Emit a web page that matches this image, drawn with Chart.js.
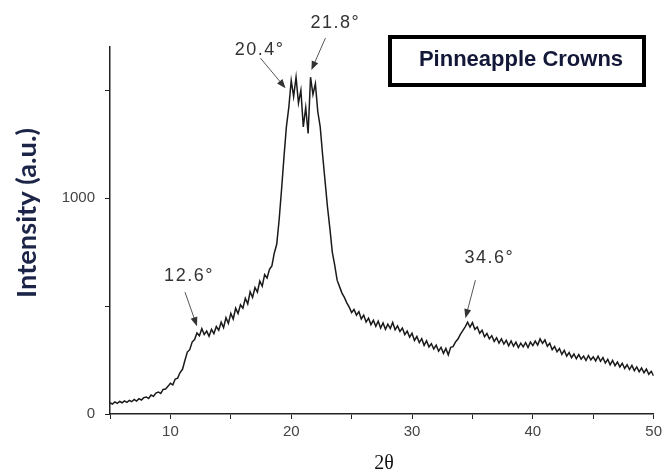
<!DOCTYPE html>
<html>
<head>
<meta charset="utf-8">
<script src="https://cdn.jsdelivr.net/npm/chart.js@4/dist/chart.umd.min.js"></script>
<style>
	body { margin: 0; background: #fff; }
	canvas { display: block; }
</style>
</head>
<body>
<canvas id="xrd" width="666" height="472"></canvas>
<script>
// scan: 2theta from 5 to 50 deg, 0.2 deg per step
const twoThetaStart = 5;
const twoThetaStep = 0.2;

const intensity = [
	52, 46, 56, 49, 58,
	52, 61, 54, 63, 57,
	67, 60, 71, 65, 76,
	79, 72, 88, 82, 97,
	102, 95, 114, 116, 128,
	142, 135, 162, 166, 192,
	207, 248, 287, 298, 333,
	345, 375, 362, 395, 368,
	384, 360, 392, 372, 405,
	388, 425, 400, 446, 420,
	466, 440, 490, 465, 506,
	490, 536, 510, 566, 540,
	586, 565, 616, 592, 646,
	630, 670, 686, 746, 786,
	900, 1040, 1190, 1330, 1420,
	1545, 1470, 1560, 1440, 1500,
	1330, 1420, 1300, 1560, 1480,
	1530, 1400, 1330, 1200, 1080,
	960, 860, 750, 690, 620,
	590, 560, 540, 515, 495,
	470, 484, 458, 474, 440,
	458, 426, 444, 414, 434,
	406, 430, 398, 422, 392,
	416, 396, 424, 390, 408,
	382, 398, 368, 384, 356,
	374, 341, 359, 331, 349,
	318, 339, 311, 326, 301,
	319, 291, 309, 281, 304,
	274, 309, 312, 334, 347,
	369, 386, 404, 425, 402,
	423, 392, 403, 374, 388,
	358, 373, 348, 363, 336,
	353, 328, 348, 324, 341,
	316, 338, 314, 333, 308,
	328, 311, 331, 308, 333,
	317, 338, 319, 348, 327,
	343, 314, 328, 298, 313,
	288, 303, 276, 295, 268,
	285, 261, 278, 256, 275,
	254, 268, 248, 271, 251,
	265, 246, 268, 244, 261,
	236, 253, 228, 248, 224,
	241, 218, 235, 211, 228,
	206, 225, 201, 218, 196,
	213, 191, 208, 184, 198,
	176
];

const xLabelTicks = [10, 20, 30, 40, 50];
const yTickValues = [0, 500, 1000, 1500];
const yLabelTicks = [0, 1000];

// peak labels: text and where the arrow points (data units)
const peakLabels = ["12.6°", "20.4°", "21.8°", "34.6°"];
const peakTipX = [12.2, 19.53, 21.67, 34.42];
const peakTipY = [407, 1509, 1593, 444];

const sampleName = "Pinneapple Crowns";

const points = intensity.map((v, i) => ({
	x: +(twoThetaStart + i * twoThetaStep).toFixed(1),
	y: v
}));

// arrow tail and text centre, pixel offsets from the tip
const arrowLayout = [
	{ tail: [-12, -34], text: [-8, -50] },
	{ tail: [-25, -30], text: [-26, -38] },
	{ tail: [14, -32], text: [24, -47] },
	{ tail: [10, -38], text: [24, -60] }
];

function drawArrow(ctx, x0, y0, x1, y1) {
	const a = Math.atan2(y1 - y0, x1 - x0);
	const len = 9, wid = 3.5;
	ctx.strokeStyle = "#555";
	ctx.fillStyle = "#333";
	ctx.lineWidth = 1;
	ctx.beginPath();
	ctx.moveTo(x0, y0);
	ctx.lineTo(x1 - Math.cos(a) * len * 0.8, y1 - Math.sin(a) * len * 0.8);
	ctx.stroke();
	ctx.beginPath();
	ctx.moveTo(x1, y1);
	ctx.lineTo(x1 - Math.cos(a) * len - Math.sin(a) * wid, y1 - Math.sin(a) * len + Math.cos(a) * wid);
	ctx.lineTo(x1 - Math.cos(a) * len + Math.sin(a) * wid, y1 - Math.sin(a) * len - Math.cos(a) * wid);
	ctx.closePath();
	ctx.fill();
}

const decorations = {
	id: "decorations",
	afterDraw(chart) {
		const ctx = chart.ctx;
		const xs = chart.scales.x, ys = chart.scales.y;
		ctx.save();

		// peak annotations
		ctx.font = "18px 'Liberation Sans', Arial, sans-serif";
		ctx.letterSpacing = "1.5px";
		ctx.textAlign = "center";
		ctx.textBaseline = "middle";
		for (let i = 0; i < peakLabels.length; i++) {
			const tx = xs.getPixelForValue(peakTipX[i]);
			const ty = ys.getPixelForValue(peakTipY[i]);
			const l = arrowLayout[i];
			drawArrow(ctx, tx + l.tail[0], ty + l.tail[1], tx, ty);
			ctx.fillStyle = "#333";
			ctx.fillText(peakLabels[i], tx + l.text[0], ty + l.text[1]);
		}
		ctx.letterSpacing = "0px";

		// sample box
		ctx.lineWidth = 4;
		ctx.strokeStyle = "#000";
		ctx.strokeRect(390, 37, 254, 48);
		ctx.fillStyle = "#141838";
		ctx.font = "bold 22px 'Liberation Sans', Arial, sans-serif";
		ctx.fillText(sampleName, 521, 60);

		// x title
		ctx.fillStyle = "#111";
		ctx.font = "20px 'Liberation Serif', 'DejaVu Serif', serif";
		ctx.fillText("2θ", 384, 464);

		// y title
		const yTitle = "Intensity (a.u.)";
		ctx.font = "bold 24px Lato, sans-serif";
		const w = ctx.measureText(yTitle).width;
		const size = 24 * 170 / w;
		ctx.font = "bold " + size.toFixed(1) + "px Lato, sans-serif";
		ctx.translate(27, 213);
		ctx.rotate(-Math.PI / 2);
		ctx.fillStyle = "#1c2547";
		ctx.fillText(yTitle, 0, 0);

		ctx.restore();
	}
};

new Chart("xrd", {
	type: "line",
	data: {
		datasets: [{
			data: points,
			borderColor: "#1a1a1a",
			borderWidth: 1.5,
			pointRadius: 0,
			tension: 0,
			fill: false
		}]
	},
	options: {
		responsive: false,
		animation: false,
		layout: { padding: { top: 47, right: 8, left: 0, bottom: 0 } },
		plugins: {
			legend: { display: false },
			tooltip: { enabled: false }
		},
		scales: {
			x: {
				type: "linear",
				min: 5,
				max: 50,
				afterFit(scale) { scale.height = 58; },
				border: { color: "#222", width: 1.5 },
				grid: { drawOnChartArea: false, drawTicks: true, tickLength: 5, color: "#222" },
				ticks: {
					stepSize: 5,
					includeBounds: false,
					autoSkip: false,
					maxRotation: 0,
					padding: 4,
					color: "#444",
					font: { family: "'Liberation Sans', Arial, sans-serif", size: 15 },
					callback: v => xLabelTicks.includes(v) ? String(v) : ""
				}
			},
			y: {
				min: 0,
				max: 1700,
				afterFit(scale) { scale.width = 110; },
				afterBuildTicks(scale) { scale.ticks = yTickValues.map(v => ({ value: v })); },
				border: { color: "#222", width: 1.5 },
				grid: { drawOnChartArea: false, drawTicks: true, tickLength: 5, color: "#222" },
				ticks: {
					autoSkip: false,
					padding: 10,
					color: "#444",
					font: { family: "'Liberation Sans', Arial, sans-serif", size: 15 },
					callback: v => yLabelTicks.includes(v) ? String(v) : ""
				}
			}
		}
	},
	plugins: [decorations]
});
</script>
</body>
</html>
